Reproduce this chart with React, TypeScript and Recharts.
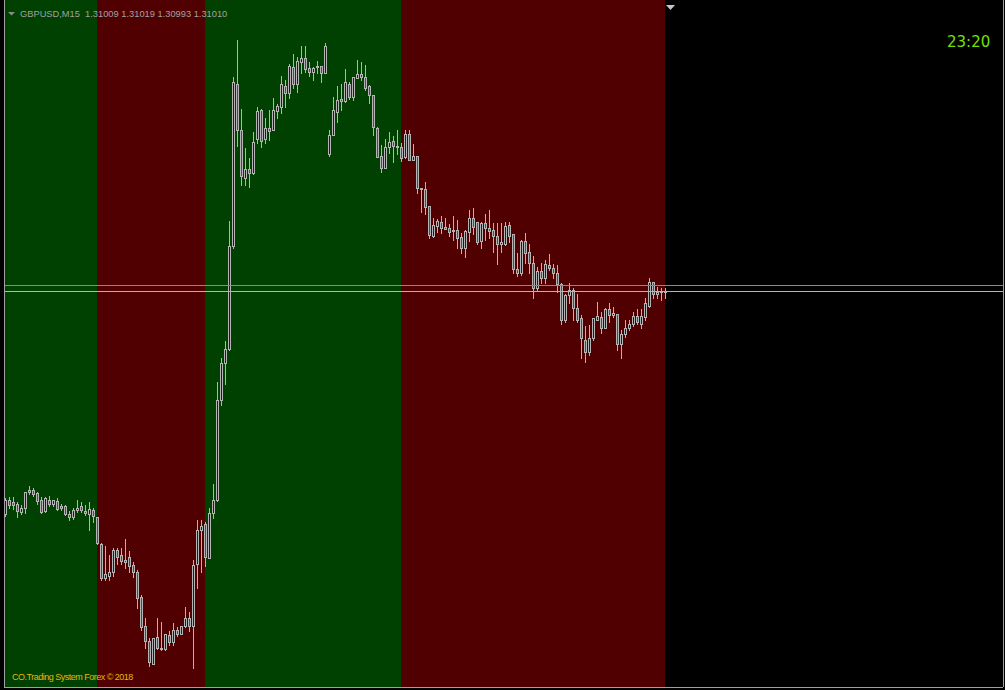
import { Bar, ComposedChart, ReferenceArea, ReferenceLine, XAxis, YAxis } from "recharts";

// GBPUSD M15, one entry per candle (oldest first)
const open = [
  1.30453, 1.30488, 1.30483, 1.30478, 1.30458, 1.30468, 1.30513, 1.30513, 1.30505, 1.3049,
  1.3046, 1.3049, 1.3048, 1.30485, 1.30473, 1.30473, 1.30453, 1.30445, 1.30463, 1.30473,
  1.3046, 1.30453, 1.30463, 1.30445, 1.30378, 1.30293, 1.303, 1.30308, 1.30363, 1.3035,
  1.3034, 1.30345, 1.30325, 1.3031, 1.30245, 1.30173, 1.30135, 1.3008, 1.30145, 1.3012,
  1.30115, 1.3015, 1.30133, 1.30165, 1.30155, 1.30173, 1.30195, 1.30173, 1.30328, 1.30415,
  1.30428, 1.30343, 1.30455, 1.30488, 1.30738, 1.3083, 1.30865, 1.31123, 1.31528, 1.31415,
  1.31293, 1.31315, 1.31305, 1.3139, 1.31463, 1.3139, 1.31418, 1.31413, 1.3146, 1.3147,
  1.31523, 1.31505, 1.3157, 1.31528, 1.31583, 1.31593, 1.31568, 1.31558, 1.31573, 1.31573,
  1.31555, 1.31353, 1.314, 1.31458, 1.3149, 1.31485, 1.3153, 1.31495, 1.31543, 1.31553,
  1.31545, 1.31523, 1.315, 1.31418, 1.31348, 1.3132, 1.3137, 1.31385, 1.31373, 1.3137,
  1.31345, 1.31405, 1.3134, 1.3135, 1.31268, 1.31265, 1.31223, 1.31148, 1.31173, 1.31183,
  1.3117, 1.31168, 1.31163, 1.31163, 1.31145, 1.31118, 1.31158, 1.31195, 1.31183, 1.31135,
  1.3118, 1.31168, 1.31163, 1.31148, 1.31128, 1.3113, 1.31175, 1.31153, 1.31065, 1.31055,
  1.31135, 1.31108, 1.3108, 1.31018, 1.3106, 1.31043, 1.31075, 1.31068, 1.31055, 1.31028,
  1.3094, 1.31, 1.31015, 1.30968, 1.30943, 1.3089, 1.30858, 1.30893, 1.3094, 1.30945,
  1.3092, 1.30965, 1.3095, 1.30953, 1.30878, 1.30903, 1.30918, 1.3093, 1.30948, 1.3093,
  1.30945, 1.30973, 1.31033, 1.31003, 1.31008, 1.31009,
];
const high = [
  1.30493, 1.30495, 1.30495, 1.30483, 1.30475, 1.30508, 1.30523, 1.3052, 1.3051, 1.30495,
  1.30495, 1.30498, 1.3049, 1.30493, 1.3048, 1.30475, 1.3046, 1.30468, 1.30488, 1.30483,
  1.30475, 1.30483, 1.3047, 1.30445, 1.3038, 1.30375, 1.3035, 1.30368, 1.30368, 1.30368,
  1.3039, 1.3036, 1.30333, 1.30313, 1.3025, 1.30193, 1.30143, 1.30143, 1.30195, 1.30183,
  1.30155, 1.3016, 1.3018, 1.3017, 1.30175, 1.3022, 1.30208, 1.30338, 1.30438, 1.30438,
  1.30433, 1.3047, 1.3053, 1.30785, 1.30843, 1.30885, 1.31185, 1.31545, 1.31638, 1.31465,
  1.31368, 1.31343, 1.31408, 1.3147, 1.31465, 1.31445, 1.31463, 1.31493, 1.31478, 1.31548,
  1.3154, 1.31578, 1.31603, 1.31595, 1.31625, 1.31623, 1.31583, 1.3157, 1.31585, 1.31573,
  1.3163, 1.31413, 1.31495, 1.31523, 1.3153, 1.31565, 1.31533, 1.31545, 1.31588, 1.31583,
  1.31575, 1.31525, 1.315, 1.3142, 1.31375, 1.3139, 1.31408, 1.31398, 1.31413, 1.3138,
  1.31413, 1.31413, 1.31378, 1.3135, 1.31268, 1.31283, 1.31223, 1.31195, 1.3119, 1.31198,
  1.31195, 1.31178, 1.31198, 1.31188, 1.31155, 1.31163, 1.31215, 1.31218, 1.31183, 1.31183,
  1.31205, 1.31213, 1.3118, 1.3118, 1.3118, 1.31183, 1.31183, 1.31153, 1.31105, 1.31138,
  1.31155, 1.3113, 1.31098, 1.3107, 1.3108, 1.3109, 1.31103, 1.31078, 1.31075, 1.3103,
  1.31005, 1.3103, 1.31018, 1.31003, 1.3095, 1.30923, 1.30925, 1.30943, 1.30983, 1.30958,
  1.30968, 1.3098, 1.3097, 1.30953, 1.30913, 1.3094, 1.3094, 1.30958, 1.30965, 1.30965,
  1.30995, 1.31043, 1.31035, 1.3102, 1.31018, 1.31019,
];
const low = [
  1.30448, 1.3047, 1.30465, 1.30445, 1.30453, 1.30455, 1.30503, 1.30498, 1.30478, 1.30455,
  1.30458, 1.30473, 1.30473, 1.30463, 1.30463, 1.3045, 1.30438, 1.3044, 1.30458, 1.30458,
  1.3045, 1.30415, 1.30435, 1.30378, 1.3029, 1.30288, 1.30288, 1.30298, 1.30328, 1.3033,
  1.3032, 1.3031, 1.30295, 1.30218, 1.30165, 1.3012, 1.30073, 1.30078, 1.30115, 1.30113,
  1.30113, 1.30125, 1.30125, 1.30148, 1.30153, 1.3017, 1.3016, 1.30068, 1.30268, 1.30308,
  1.30323, 1.30343, 1.30443, 1.30485, 1.30725, 1.30778, 1.30863, 1.3112, 1.31373, 1.31275,
  1.31275, 1.3127, 1.31303, 1.3138, 1.3137, 1.3138, 1.31388, 1.31413, 1.31443, 1.31455,
  1.3147, 1.31493, 1.3152, 1.31508, 1.31555, 1.31558, 1.3155, 1.3154, 1.31555, 1.31533,
  1.31555, 1.3135, 1.314, 1.31435, 1.31463, 1.31483, 1.3149, 1.31488, 1.31543, 1.3154,
  1.31513, 1.3148, 1.314, 1.31345, 1.3131, 1.3132, 1.31355, 1.31333, 1.31353, 1.31335,
  1.31343, 1.31338, 1.31338, 1.31255, 1.31208, 1.31205, 1.31143, 1.31145, 1.31158, 1.31155,
  1.31165, 1.31148, 1.31138, 1.3112, 1.31105, 1.31095, 1.31135, 1.31153, 1.31128, 1.3112,
  1.31138, 1.31143, 1.3111, 1.31078, 1.3111, 1.31125, 1.31133, 1.31055, 1.31048, 1.3105,
  1.3108, 1.31055, 1.30995, 1.31015, 1.3103, 1.3103, 1.31063, 1.31045, 1.31008, 1.30928,
  1.30933, 1.3098, 1.3094, 1.30933, 1.30845, 1.30835, 1.3085, 1.3089, 1.30938, 1.30905,
  1.3092, 1.30933, 1.30945, 1.30863, 1.30845, 1.30895, 1.30913, 1.30923, 1.30928, 1.3092,
  1.3094, 1.3097, 1.30995, 1.30993, 1.30988, 1.30993,
];
const close = [
  1.30488, 1.30475, 1.30475, 1.3046, 1.3047, 1.30508, 1.30508, 1.30503, 1.30485, 1.30458,
  1.30493, 1.30478, 1.30488, 1.30465, 1.30468, 1.30453, 1.30445, 1.30463, 1.30468, 1.30463,
  1.30455, 1.30465, 1.30448, 1.3038, 1.30293, 1.30303, 1.3031, 1.30363, 1.30345, 1.30335,
  1.30333, 1.30323, 1.30308, 1.30243, 1.3017, 1.30135, 1.30083, 1.30143, 1.30118, 1.30115,
  1.30153, 1.30133, 1.30165, 1.30155, 1.30175, 1.30193, 1.30173, 1.30325, 1.30413, 1.30425,
  1.30345, 1.30455, 1.30488, 1.3074, 1.3083, 1.30865, 1.31123, 1.31533, 1.31413, 1.31298,
  1.31315, 1.31305, 1.31383, 1.3146, 1.31385, 1.31418, 1.3141, 1.31463, 1.31473, 1.31528,
  1.31505, 1.31573, 1.31528, 1.31585, 1.31593, 1.31565, 1.31558, 1.31568, 1.3157, 1.31555,
  1.31625, 1.314, 1.31463, 1.31488, 1.31485, 1.31533, 1.31495, 1.31545, 1.31553, 1.31545,
  1.3152, 1.315, 1.3142, 1.31345, 1.31318, 1.3137, 1.31383, 1.31373, 1.3137, 1.31343,
  1.31405, 1.3134, 1.3135, 1.31268, 1.31265, 1.3122, 1.3115, 1.31175, 1.31185, 1.31168,
  1.31165, 1.31158, 1.3116, 1.31143, 1.31118, 1.3116, 1.31195, 1.3117, 1.31133, 1.3118,
  1.31168, 1.3116, 1.31148, 1.3113, 1.31133, 1.31173, 1.31148, 1.31065, 1.31055, 1.31135,
  1.31105, 1.3108, 1.31018, 1.3106, 1.31043, 1.31078, 1.31068, 1.31055, 1.31028, 1.3094,
  1.31, 1.31015, 1.30968, 1.3094, 1.30893, 1.30858, 1.30893, 1.30943, 1.30948, 1.3092,
  1.30965, 1.3095, 1.30955, 1.30878, 1.30903, 1.30918, 1.3093, 1.30948, 1.30933, 1.30948,
  1.3098, 1.31035, 1.31003, 1.31008, 1.31008, 1.3101,
];

// session boundaries (candle index) and their background colours
const sessionBreaks = [0, 23, 50, 99, 165];
const sessionColors = ["#004000", "#500000", "#004000", "#500000"];

const bid = 1.3101;
const ask = 1.31025;
const headerText = "GBPUSD,M15  1.31009 1.31019 1.30993 1.31010";
const clockText = "23:20";
const footerText = "CO.Trading System Forex \u00a9 2018";

const BAR_SHIFT = 0.125; // MT4 draws a bar's time slot a touch left of its centre
const X_DOMAIN: [number, number] = [-BAR_SHIFT, 249.5 - BAR_SHIFT];
const Y_DOMAIN: [number, number] = [1.3002125, 1.3173875];
const WICK = "#b4b4b4";
const FRAME = "#a0a0a0";

const candles = open.map((o, i) => ({
  i,
  open: o,
  high: high[i],
  low: low[i],
  close: close[i],
  range: [low[i], high[i]],
}));

const axisTicks = Array.from({ length: 16 }, (_, k) => k * 16 - BAR_SHIFT);

function Candle(props: any) {
  const { x, y, width, height, payload } = props;
  if (!payload) return null;
  const top = Math.min(y, y + height);
  const h = Math.abs(height);
  const span = payload.high - payload.low;
  const toY = (v: number) => (span > 0 ? top + ((payload.high - v) / span) * h : top);
  const cx = Math.floor(x + width / 2) + 0.5;
  const yo = toY(payload.open);
  const yc = toY(payload.close);
  const bodyTop = Math.round(Math.min(yo, yc)) + 0.5;
  const bodyBottom = Math.round(Math.max(yo, yc)) + 0.5;
  const fill = payload.close >= payload.open ? "#0000ff" : "#ff0000";
  return (
    <g shapeRendering="crispEdges">
      <line x1={cx} x2={cx} y1={Math.round(top)} y2={Math.round(top + h) + 1} stroke={WICK} />
      {bodyBottom - bodyTop >= 1 ? (
        <rect x={cx - 1} y={bodyTop} width={2} height={bodyBottom - bodyTop} fill={fill} stroke={WICK} />
      ) : (
        <line x1={cx - 1.5} x2={cx + 1.5} y1={bodyTop} y2={bodyTop} stroke={WICK} />
      )}
    </g>
  );
}

export default function App() {
  return (
    <div style={{ position: "fixed", left: 0, top: 0, width: 1005, height: 690, background: "#000", overflow: "hidden" }}>
      <ComposedChart
        width={1005}
        height={690}
        data={candles}
        margin={{ top: 0, right: 0, bottom: 0, left: 5 }}
      >
        <XAxis
          dataKey="i"
          type="number"
          domain={X_DOMAIN}
          allowDataOverflow
          ticks={axisTicks}
          tick={false}
          tickSize={3}
          height={3}
          tickLine={{ stroke: FRAME, shapeRendering: "crispEdges" }}
          axisLine={{ stroke: FRAME, shapeRendering: "crispEdges" }}
        />
        <YAxis
          orientation="right"
          type="number"
          domain={Y_DOMAIN}
          allowDataOverflow
          width={2}
          tick={false}
          tickLine={false}
          axisLine={{ stroke: FRAME, shapeRendering: "crispEdges" }}
        />
        {sessionColors.map((c, k) => (
          <ReferenceArea
            key={k}
            x1={sessionBreaks[k] - BAR_SHIFT}
            x2={sessionBreaks[k + 1] - BAR_SHIFT}
            fill={c}
            fillOpacity={1}
            stroke="none"
            ifOverflow="hidden"
          />
        ))}
        <Bar dataKey="range" barSize={3} shape={Candle} isAnimationActive={false} />
        <ReferenceLine y={ask} stroke="#6f8fb0" shapeRendering="crispEdges" />
        <ReferenceLine y={bid} stroke="#b4b4b4" shapeRendering="crispEdges" />
      </ComposedChart>
      <div style={{ position: "absolute", left: 4, top: 0, width: 1, height: 688, background: FRAME }} />
      <svg width={1005} height={690} style={{ position: "absolute", left: 0, top: 0, pointerEvents: "none" }}>
        <polygon points="8,12 15,12 11.5,15.5" fill="#8c8c8c" />
        <text x={20} y={17} fill="#a0a0a0" fontFamily="Liberation Sans, Arial, sans-serif" fontSize={9.3} style={{ whiteSpace: "pre" }}>
          {headerText}
        </text>
        <polygon points="666,5 675,5 670.5,10" fill="#c8c8c8" />
        <text x={947} y={47} fill="#70e000" fontFamily="DejaVu Sans, sans-serif" fontSize={15}>
          {clockText}
        </text>
        <text x={12} y={680} fill="#e6b800" fontFamily="Liberation Sans, Arial, sans-serif" fontSize={9} letterSpacing={-0.5}>
          {footerText}
        </text>
      </svg>
    </div>
  );
}
